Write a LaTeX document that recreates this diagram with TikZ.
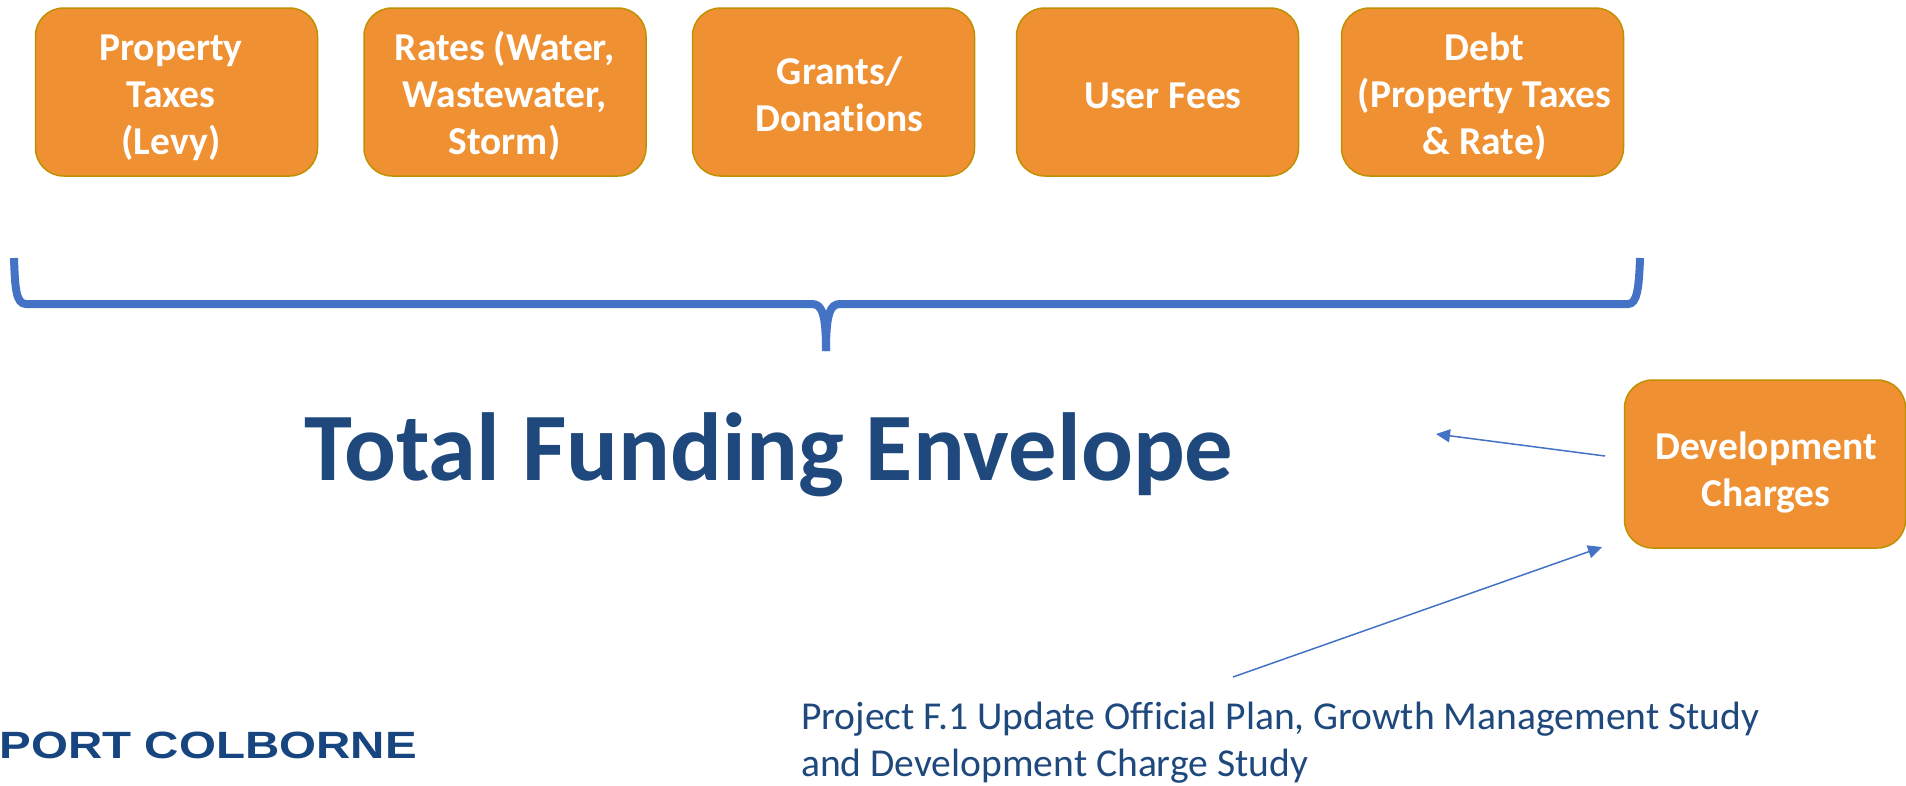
\documentclass[tikz,border=0pt]{standalone}
\usepackage{fontspec}
\setmainfont{Carlito}[Ligatures=NoCommon]
\newfontfamily\logofont{Liberation Sans}
\usetikzlibrary{arrows.meta}
\definecolor{boxfill}{HTML}{EF9032}
\definecolor{boxline}{HTML}{BF9000}
\definecolor{linkblue}{HTML}{4472C4}
\definecolor{titleblue}{HTML}{1F497D}
\definecolor{logoblue}{HTML}{17457F}
% #1 horizontal text offset, #2 downward text offset, #3 lines
\newcommand{\boxtext}[3]{\raisebox{0pt}[\dimexpr\height+2\dimexpr#2\relax\relax]{\hspace*{\dimexpr2\dimexpr#1\relax\relax}\begin{tabular}{@{}c@{}}#3\end{tabular}}}
\tikzset{
  x=1pt,y=-1pt,
  fundbox/.style={draw=boxline,fill=boxfill,line width=1.5pt,rounded corners=28pt,
    minimum width=282pt,minimum height=168pt,inner sep=0pt,text=white,
    font=\fontsize{39.5}{47}\selectfont\bfseries},
  brace/.style={draw=linkblue,line width=8pt},
  thinlink/.style={draw=linkblue,line width=1.5pt,-{Triangle[length=14pt,width=13pt]}},
}
\begin{document}
\begin{tikzpicture}
\useasboundingbox (0,0) rectangle (1906,785);
\begin{scope}
\clip (0,0) rectangle (1906,785);
\node[fundbox] (b1) at (176.5,92) {\boxtext{-5.5pt}{6.5pt}{Property\\Taxes\\(Levy)}};
\node[fundbox] (b2) at (505,92) {\boxtext{-0.5pt}{6.5pt}{Rates (Water,\\Wastewater,\\Storm)}};
\node[fundbox] (b3) at (833.5,92) {\boxtext{6pt}{7pt}{Grants/\\Donations}};
\node[fundbox] (b4) at (1157.5,92) {\boxtext{5.5pt}{7.5pt}{User Fees}};
\node[fundbox] (b5) at (1482.5,92) {\boxtext{2pt}{6.5pt}{Debt\\(Property Taxes\\\& Rate)}};
\node[fundbox,minimum width=281pt] (dc) at (1765,464) {\boxtext{1pt}{9.5pt}{Development\\Charges}};
\draw[brace] (14,258) .. controls (15,288) and (16,304) .. (26,304) -- (812,304)
  .. controls (822,304) and (826,314) .. (826,351);
\draw[brace] (826,351) .. controls (826,314) and (830,304) .. (840,304) -- (1628,304)
  .. controls (1637,304) and (1639,288) .. (1640,258);
\node[inner sep=0pt,text=titleblue,font=\fontsize{96.7}{100}\selectfont\bfseries] (title) at (769,455) {Total Funding Envelope};
\node[inner sep=0pt,anchor=north west,align=left,text=titleblue,font=\fontsize{39.55}{47}\selectfont] (study) at (801,702)
  {Project F.1 Update Official Plan, Growth Management Study\\and Development Charge Study};
\node[inner sep=0pt,anchor=east,text=logoblue,font=\logofont\bfseries\fontsize{38}{40}\selectfont,xscale=1.25] (logo) at (417,745.5) {PORT COLBORNE};
\coordinate (a1s) at (1605,456);
\coordinate (a1e) at (1436,434);
\coordinate (a2s) at (1233,677);
\coordinate (a2e) at (1602,547);
\draw[thinlink] (a1s) -- (a1e);
\draw[thinlink] (a2s) -- (a2e);
\end{scope}
\end{tikzpicture}
\end{document}
